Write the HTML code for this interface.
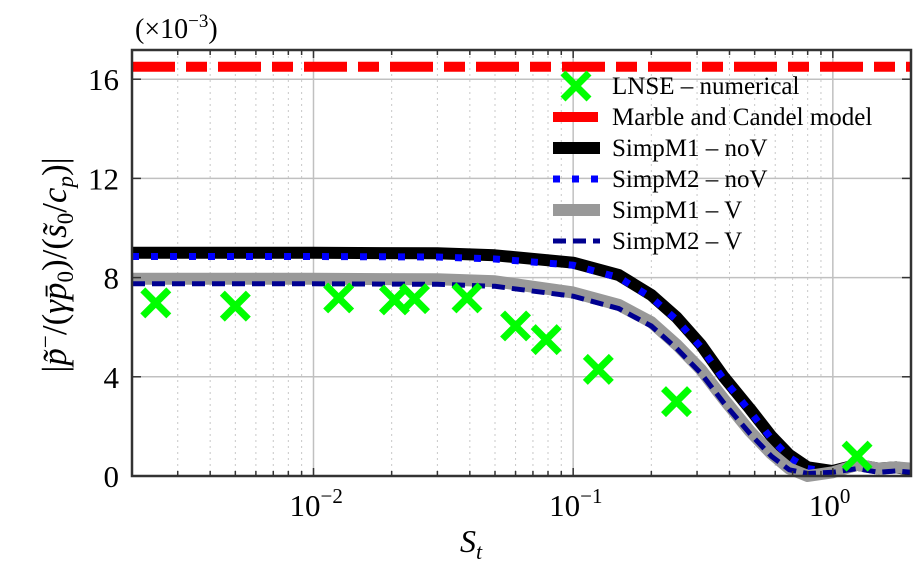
<!DOCTYPE html>
<html><head><meta charset="utf-8">
<style>
html,body{margin:0;padding:0;background:#fff;}
svg{display:block;font-family:"Liberation Serif","DejaVu Serif",serif;}
</style></head>
<body>
<svg id="chart" width="917" height="572" viewBox="0 0 917 572" xmlns="http://www.w3.org/2000/svg">
<g id="grid"></g>
<g id="series"></g>
<rect x="132" y="50" width="779" height="426" fill="none" stroke="#333" stroke-width="2.5"/>
<g id="ticks"></g>
<text x="135" y="38" font-size="28">(×10<tspan dy="-11" font-size="19">−3</tspan><tspan dy="11">)</tspan></text>
<text x="460" y="552" font-size="32" font-style="italic">S<tspan dy="7" font-size="22">t</tspan></text>
<text transform="translate(66,265) rotate(-90)" text-anchor="middle" font-size="35">|<tspan font-style="italic">p̃</tspan><tspan dy="-13" font-size="23">−</tspan><tspan dy="13">/(</tspan><tspan font-style="italic">γp̄</tspan><tspan dy="7" font-size="23">0</tspan><tspan dy="-7">)/(</tspan><tspan font-style="italic">s̃</tspan><tspan dy="7" font-size="23">0</tspan><tspan dy="-7">/</tspan><tspan font-style="italic">c</tspan><tspan dy="7" font-size="23" font-style="italic">p</tspan><tspan dy="-7">)|</tspan></text>
<g id="legend"></g>
</svg>
<script>
const lnseSt = [0.00247, 0.005, 0.0125, 0.0205, 0.0245, 0.039, 0.06, 0.0787, 0.125, 0.25, 1.24];
const lnseVal = [6.98, 6.85, 7.18, 7.1, 7.15, 7.18, 6.05, 5.5, 4.3, 3.0, 0.8];
const marbleVal = 16.5;
const curveSt = [0.002, 0.01, 0.03, 0.05, 0.1, 0.15, 0.2, 0.25, 0.31, 0.38, 0.48, 0.58, 0.68, 0.8, 1.0, 1.24, 1.5, 1.75, 2.0];
const m1noV = [9.0, 9.0, 8.98, 8.9, 8.6, 8.1, 7.3, 6.4, 5.3, 4.0, 2.7, 1.6, 0.85, 0.35, 0.2, 0.45, 0.3, 0.35, 0.25];
const m2noV = [8.85, 8.85, 8.83, 8.75, 8.5, 8.0, 7.2, 6.3, 5.2, 3.9, 2.6, 1.5, 0.75, 0.3, 0.15, 0.35, 0.2, 0.25, 0.2];
const m1V = [7.95, 7.95, 7.93, 7.85, 7.4, 6.9, 6.2, 5.3, 4.3, 3.1, 1.8, 0.9, 0.3, 0.0, 0.15, 0.45, 0.3, 0.35, 0.3];
const m2V = [7.75, 7.75, 7.73, 7.65, 7.25, 6.75, 6.05, 5.15, 4.15, 2.95, 1.7, 0.8, 0.25, 0.1, 0.15, 0.3, 0.15, 0.2, 0.15];
const yTicks = [0, 4, 8, 12, 16];
const xDecades = [-2, -1, 0];

const NS = "http://www.w3.org/2000/svg";
const L = 132, R = 911, T = 50, B = 476;
const xmin = Math.log10(0.002), xmax = Math.log10(2.0);
function xs(v){ return L + (Math.log10(v) - xmin) / (xmax - xmin) * (R - L); }
function ys(v){ return B - v * 24.8; }
function mk(tag, attrs, parent){ const e = document.createElementNS(NS, tag); for (const k in attrs) e.setAttribute(k, attrs[k]); parent.appendChild(e); return e; }

const grid = document.getElementById('grid');
const ticks = document.getElementById('ticks');
for (let d = -3; d <= 0; d++) {
  for (let m = 1; m <= 9; m++) {
    const v = m * Math.pow(10, d);
    if (v <= 0.002 || v >= 2.0) continue;
    const x = xs(v);
    if (m === 1) {
      const g = mk('line', {x1:x, x2:x, y1:T, y2:B, stroke:'#c0c0c0', 'stroke-width':1.5}, grid);
      
      
    } else {
      const g = mk('line', {x1:x, x2:x, y1:T, y2:B, stroke:'#c8c8c8', 'stroke-width':1, 'stroke-dasharray':'2 4'}, grid);
      
      
    }
    const tl = m === 1 ? 8 : 5;
    const t1 = mk('line', {x1:x, x2:x, y1:B, y2:B - tl, stroke:'#333', 'stroke-width':1.5}, ticks);
    
    
    const t2 = mk('line', {x1:x, x2:x, y1:T, y2:T + tl, stroke:'#333', 'stroke-width':1.5}, ticks);
    
    
  }
}
yTicks.forEach(v => {
  const y = ys(v);
  const g = mk('line', {x1:L, x2:R, y1:y, y2:y, stroke:'#c0c0c0', 'stroke-width':1.5}, grid);
  
  
  const t1 = mk('line', {x1:L, x2:L + 9, y1:y, y2:y, stroke:'#333', 'stroke-width':1.5}, ticks);
  
  
  const t2 = mk('line', {x1:R, x2:R - 9, y1:y, y2:y, stroke:'#333', 'stroke-width':1.5}, ticks);
  
  
  const lb = mk('text', {x:119, y:y + 11, 'font-size':31, 'text-anchor':'end'}, ticks);
  lb.textContent = v;
  
  
});
xDecades.forEach(d => {
  const x = xs(Math.pow(10, d));
  const lb = mk('text', {x:x - 24, y:516, 'font-size':31}, ticks);
  
  
  lb.textContent = '10';
  const sp = mk('tspan', {dy:-13, 'font-size':21}, lb);
  sp.textContent = d === 0 ? '0' : '−' + (-d);
});

const series = document.getElementById('series');
function path(st, vals){ return st.map((s,i)=>(i?'L':'M') + xs(s).toFixed(1) + ',' + ys(vals[i]).toFixed(1)).join(''); }
const red = mk('line', {x1:L, x2:R, y1:ys(marbleVal), y2:ys(marbleVal), stroke:'#ff0000', 'stroke-width':10, 'stroke-dasharray':'43 11 21 11'}, series);


const p1 = mk('path', {d:path(curveSt, m1noV), fill:'none', stroke:'#000', 'stroke-width':12, 'stroke-linejoin':'round'}, series);


const p2 = mk('path', {d:path(curveSt, m2noV), fill:'none', stroke:'#0000ff', 'stroke-width':7, 'stroke-dasharray':'7 12'}, series);


const p3 = mk('path', {d:path(curveSt, m1V), fill:'none', stroke:'#999999', 'stroke-width':12, 'stroke-linejoin':'round'}, series);


const p4 = mk('path', {d:path(curveSt, m2V), fill:'none', stroke:'#000090', 'stroke-width':5, 'stroke-dasharray':'13 7'}, series);


lnseSt.forEach((s,i) => {
  const x = xs(s), y = ys(lnseVal[i]), r = 13;
  const g = mk('path', {d:`M${x-r},${y-r}L${x+r},${y+r}M${x+r},${y-r}L${x-r},${y+r}`, stroke:'#00ff00', 'stroke-width':7, fill:'none'}, series);
  
  
});

const lg = document.getElementById('legend');
const entries = [
  ['LNSE – numerical','x'],
  ['Marble and Candel model','red'],
  ['SimpM1 – noV','black'],
  ['SimpM2 – noV','blue'],
  ['SimpM1 – V','gray'],
  ['SimpM2 – V','navy']
];
entries.forEach((e,i) => {
  const y = 86 + i * 31;
  const g = mk('g', {}, lg);
  
  
  const x1 = 553, x2 = 600;
  if (e[1] === 'x') mk('path', {d:`M${576-13},${y-13}L${576+13},${y+13}M${576+13},${y-13}L${576-13},${y+13}`, stroke:'#00ff00', 'stroke-width':7}, g);
  if (e[1] === 'red') mk('line', {x1, x2:x2-2, y1:y, y2:y, stroke:'#ff0000', 'stroke-width':10}, g);
  if (e[1] === 'black') mk('line', {x1, x2, y1:y, y2:y, stroke:'#000', 'stroke-width':12}, g);
  if (e[1] === 'blue') mk('line', {x1, x2, y1:y, y2:y, stroke:'#0000ff', 'stroke-width':7, 'stroke-dasharray':'7 12'}, g);
  if (e[1] === 'gray') mk('line', {x1, x2, y1:y, y2:y, stroke:'#999', 'stroke-width':12}, g);
  if (e[1] === 'navy') mk('line', {x1, x2, y1:y, y2:y, stroke:'#000090', 'stroke-width':5, 'stroke-dasharray':'13 7'}, g);
  const t = mk('text', {x:612, y:y + 8, 'font-size':25}, g);
  t.textContent = e[0];
});
</script>
</body></html>
